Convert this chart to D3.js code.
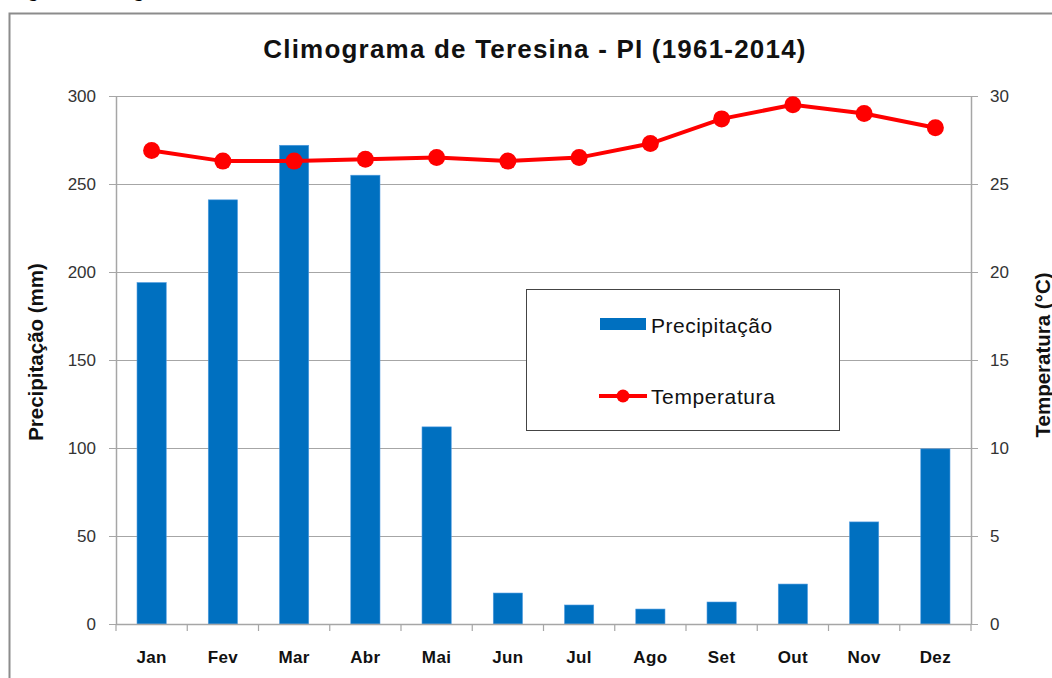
<!DOCTYPE html>
<html>
<head>
<meta charset="utf-8">
<script src="https://cdn.jsdelivr.net/npm/d3@7"></script>
<style>
  html, body { margin: 0; padding: 0; background: #fff; }
  svg { display: block; font-family: "Liberation Sans", Arial, sans-serif; }
</style>
</head>
<body>
<div id="chart"></div>
<script>
const meses = ["Jan", "Fev", "Mar", "Abr", "Mai", "Jun", "Jul", "Ago", "Set", "Out", "Nov", "Dez"];
const precipitacao = [194, 241, 272, 255, 112, 17.6, 10.8, 8.5, 12.5, 22.7, 58, 99.5];
const temperatura = [26.9, 26.3, 26.3, 26.4, 26.5, 26.3, 26.5, 27.3, 28.7, 29.5, 29.0, 28.2];
const ticksPrec = [0, 50, 100, 150, 200, 250, 300];
const ticksTemp = [0, 5, 10, 15, 20, 25, 30];

const W = 1052, H = 678;
const plot = { left: 116, right: 971, top: 96, bottom: 624 };

const svg = d3.select("#chart").append("svg")
  .attr("width", W)
  .attr("height", H);

// legenda da figura, cortada no topo (só se vê o pé das letras)
svg.append("text")
  .attr("x", 14).attr("y", -3)
  .attr("font-family", "'Liberation Serif', 'Times New Roman', serif")
  .attr("font-weight", "bold")
  .attr("font-size", 17)
  .attr("fill", "#000")
  .text("Figura 2 - Climograma de Teresina");

// moldura
svg.append("rect")
  .attr("x", 9.5).attr("y", 13.5)
  .attr("width", W + 20).attr("height", H + 20)
  .attr("fill", "#fff")
  .attr("stroke", "#8c8c8c")
  .attr("stroke-width", 2);

const x = d3.scaleBand()
  .domain(meses)
  .range([plot.left, plot.right])
  .paddingInner(0.59)
  .paddingOuter(0.295);

const yP = d3.scaleLinear().domain([0, 300]).range([plot.bottom, plot.top]);
const yT = d3.scaleLinear().domain([0, 30]).range([plot.bottom, plot.top]);

// grade
svg.append("g")
  .selectAll("line")
  .data(ticksPrec)
  .join("line")
  .attr("x1", plot.left - 7).attr("x2", plot.right + 7)
  .attr("y1", d => Math.round(yP(d)) + 0.5)
  .attr("y2", d => Math.round(yP(d)) + 0.5)
  .attr("stroke", "#a6a6a6")
  .attr("stroke-width", 1.2);

// barras
svg.append("g")
  .selectAll("rect")
  .data(precipitacao)
  .join("rect")
  .attr("x", (d, i) => x(meses[i]))
  .attr("width", x.bandwidth())
  .attr("y", d => yP(d))
  .attr("height", d => yP(0) - yP(d))
  .attr("fill", "#0070c0")
  .attr("stroke", "#4f9be0")
  .attr("stroke-width", 0.6);

// eixos
const axisStyle = g => {
  g.select(".domain").attr("stroke", "#a6a6a6").attr("stroke-width", 1.5);
  g.selectAll(".tick line").attr("stroke", "#a6a6a6").attr("stroke-width", 1.2);
};

svg.append("g")
  .attr("transform", `translate(${plot.left},0)`)
  .call(d3.axisLeft(yP).tickValues(ticksPrec).tickSize(0).tickPadding(20))
  .call(axisStyle)
  .call(g => g.selectAll("text").attr("font-size", 17).attr("fill", "#333")
    .attr("font-family", "'Liberation Sans', Arial, sans-serif"));

svg.append("g")
  .attr("transform", `translate(${plot.right},0)`)
  .call(d3.axisRight(yT).tickValues(ticksTemp).tickSize(0).tickPadding(19))
  .call(axisStyle)
  .call(g => g.selectAll("text").attr("font-size", 17).attr("fill", "#333")
    .attr("font-family", "'Liberation Sans', Arial, sans-serif"));

// eixo x com marcas entre os meses
const xAxis = svg.append("g");
xAxis.append("line")
  .attr("x1", plot.left).attr("x2", plot.right)
  .attr("y1", plot.bottom + 0.5).attr("y2", plot.bottom + 0.5)
  .attr("stroke", "#a6a6a6").attr("stroke-width", 1.5);
xAxis.selectAll("line.tk")
  .data(d3.range(meses.length + 1))
  .join("line")
  .attr("class", "tk")
  .attr("x1", i => plot.left + i * x.step())
  .attr("x2", i => plot.left + i * x.step())
  .attr("y1", plot.bottom).attr("y2", plot.bottom + 7)
  .attr("stroke", "#a6a6a6").attr("stroke-width", 1.2);
xAxis.selectAll("text")
  .data(meses)
  .join("text")
  .attr("x", d => x(d) + x.bandwidth() / 2)
  .attr("y", 663)
  .attr("text-anchor", "middle")
  .attr("font-size", 17)
  .attr("font-weight", "bold")
  .attr("letter-spacing", 0.4)
  .attr("fill", "#111")
  .text(d => d);

// linha de temperatura
const line = d3.line()
  .x((d, i) => x(meses[i]) + x.bandwidth() / 2)
  .y(d => yT(d));

svg.append("path")
  .datum(temperatura)
  .attr("d", line)
  .attr("fill", "none")
  .attr("stroke", "#ff0000")
  .attr("stroke-width", 4);

svg.append("g")
  .selectAll("circle")
  .data(temperatura)
  .join("circle")
  .attr("cx", (d, i) => x(meses[i]) + x.bandwidth() / 2)
  .attr("cy", d => yT(d))
  .attr("r", 8.5)
  .attr("fill", "#ff0000");

// título
svg.append("text")
  .attr("x", 535).attr("y", 58)
  .attr("text-anchor", "middle")
  .attr("font-size", 26)
  .attr("font-weight", "bold")
  .attr("letter-spacing", 1.2)
  .attr("fill", "#111")
  .text("Climograma de Teresina - PI (1961-2014)");

// títulos dos eixos
svg.append("text")
  .attr("transform", "translate(43,352) rotate(-90)")
  .attr("text-anchor", "middle")
  .attr("font-size", 20.5)
  .attr("font-weight", "bold")
  .attr("fill", "#111")
  .text("Precipitação (mm)");

svg.append("text")
  .attr("transform", "translate(1050,355) rotate(-90)")
  .attr("text-anchor", "middle")
  .attr("font-size", 20.5)
  .attr("font-weight", "bold")
  .attr("fill", "#111")
  .text("Temperatura (°C)");

// legenda
const leg = svg.append("g");
leg.append("rect")
  .attr("x", 526.5).attr("y", 289.5)
  .attr("width", 313).attr("height", 141)
  .attr("fill", "#fff")
  .attr("stroke", "#444")
  .attr("stroke-width", 1);
leg.append("rect")
  .attr("x", 600).attr("y", 318)
  .attr("width", 46).attr("height", 12)
  .attr("fill", "#0070c0");
leg.append("text")
  .attr("x", 651).attr("y", 333)
  .attr("font-size", 21)
  .attr("letter-spacing", 0.5)
  .attr("fill", "#111")
  .text("Precipitação");
leg.append("line")
  .attr("x1", 599).attr("x2", 647)
  .attr("y1", 396).attr("y2", 396)
  .attr("stroke", "#ff0000").attr("stroke-width", 4);
leg.append("circle")
  .attr("cx", 623).attr("cy", 396).attr("r", 6.5)
  .attr("fill", "#ff0000");
leg.append("text")
  .attr("x", 651).attr("y", 404)
  .attr("font-size", 21)
  .attr("letter-spacing", 0.6)
  .attr("fill", "#111")
  .text("Temperatura");
</script>
</body>
</html>
